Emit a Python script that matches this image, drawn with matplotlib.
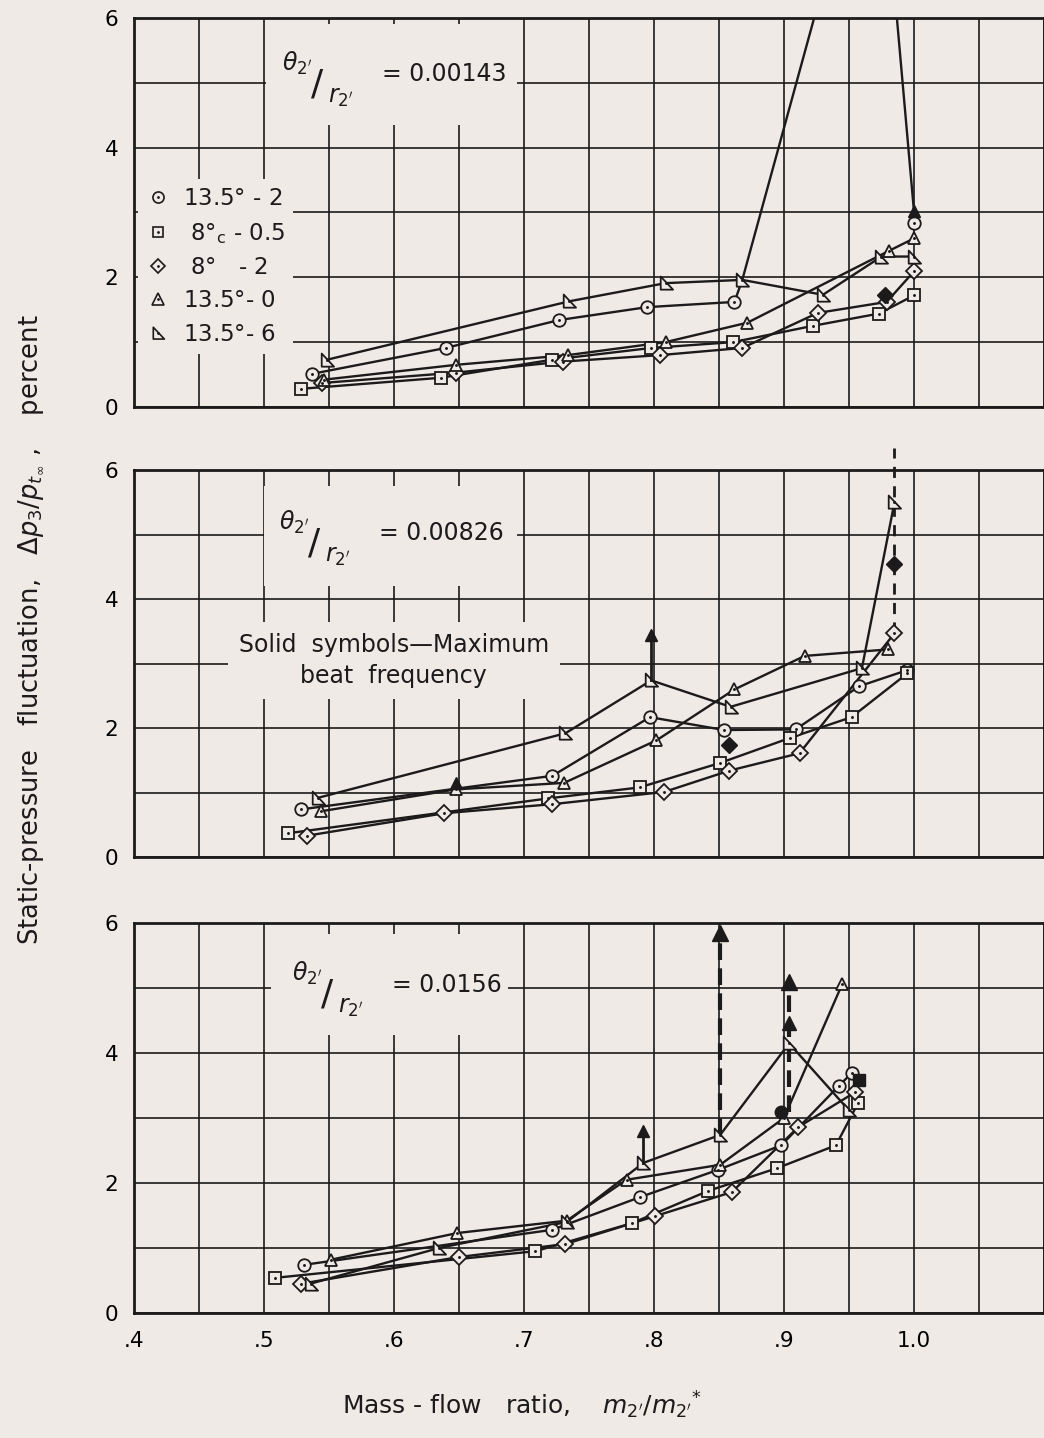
import matplotlib
matplotlib.use("Agg")
import matplotlib.pyplot as plt
from matplotlib.lines import Line2D
from matplotlib.patches import Rectangle
from matplotlib.path import Path

PAPER = '#f0eae7'
INK = '#1c1a1a'

# right-angle triangle marker used for the 13.5 deg - 6 configuration
RTRI = Path([(-0.75, -0.8), (0.85, -0.8), (-0.75, 0.9), (-0.75, -0.8)],
            [Path.MOVETO, Path.LINETO, Path.LINETO, Path.CLOSEPOLY])

labels = ['13.5$\\degree$ - 2', ' 8$\\degree$$_{\\rm c}$ - 0.5', ' 8$\\degree$   - 2',
          '13.5$\\degree$- 0', '13.5$\\degree$- 6']
markers = ['o', 's', 'D', '^', RTRI]
msizes = [9, 8, 8, 9, 10]

# ---- theta/r = 0.00143 (top) ----
top_circ_x = [0.537, 0.640, 0.727, 0.795, 0.862]
top_circ_y = [0.51, 0.91, 1.34, 1.54, 1.62]
top_sq_x = [0.529, 0.636, 0.722, 0.798, 0.861, 0.922, 0.973, 1.000]
top_sq_y = [0.28, 0.45, 0.73, 0.91, 1.00, 1.25, 1.44, 1.72]
top_dia_x = [0.545, 0.648, 0.730, 0.805, 0.868, 0.926, 0.979, 1.000]
top_dia_y = [0.37, 0.53, 0.70, 0.80, 0.91, 1.45, 1.62, 2.09]
top_tri_x = [0.546, 0.648, 0.734, 0.809, 0.872, 0.981, 1.000]
top_tri_y = [0.42, 0.65, 0.80, 1.00, 1.30, 2.41, 2.60]
top_rt_x = [0.549, 0.735, 0.809, 0.868, 0.930, 0.975, 1.000]
top_rt_y = [0.73, 1.63, 1.91, 1.96, 1.73, 2.32, 2.32]
top_extra_x = [1.000]           # circle at 1.0 fed from off-scale branch
top_extra_y = [2.83]
top_off1_x = [0.862, 0.868, 0.926]
top_off1_y = [1.62, 1.96, 6.2]
top_off2_x = [0.986, 1.000, 1.000]
top_off2_y = [6.2, 3.02, 2.83]
top_solid_tri = (1.000, 3.02)
top_solid_dia = (0.978, 1.73)

# ---- theta/r = 0.00826 (middle) ----
mid_circ_x = [0.529, 0.722, 0.797, 0.854, 0.909, 0.958, 0.995]
mid_circ_y = [0.74, 1.26, 2.17, 1.97, 1.98, 2.65, 2.90]
mid_sq_x = [0.519, 0.719, 0.789, 0.851, 0.905, 0.952, 0.995]
mid_sq_y = [0.37, 0.91, 1.08, 1.46, 1.85, 2.17, 2.85]
mid_dia_x = [0.533, 0.639, 0.722, 0.808, 0.858, 0.912, 0.985]
mid_dia_y = [0.33, 0.68, 0.82, 1.01, 1.34, 1.61, 3.47]
mid_tri_x = [0.544, 0.648, 0.731, 0.802, 0.862, 0.916, 0.980]
mid_tri_y = [0.71, 1.05, 1.15, 1.81, 2.60, 3.12, 3.22]
mid_rt_x = [0.542, 0.732, 0.798, 0.859, 0.960, 0.985]
mid_rt_y = [0.92, 1.92, 2.74, 2.33, 2.93, 5.50]
mid_solid_dia_x = [0.858, 0.985]
mid_solid_dia_y = [1.74, 4.54]
mid_solid_tri = (0.648, 1.15)
mid_arrow = (0.798, 2.74, 3.45)          # x, from, to (solid)
mid_dash = (0.985, 3.47, 6.35)           # dashed, runs past the frame

# ---- theta/r = 0.0156 (bottom) ----
bot_circ_x = [0.531, 0.722, 0.789, 0.849, 0.898, 0.942, 0.952]
bot_circ_y = [0.74, 1.28, 1.78, 2.20, 2.58, 3.49, 3.69]
bot_sq_x = [0.509, 0.709, 0.783, 0.842, 0.895, 0.940, 0.957]
bot_sq_y = [0.54, 0.95, 1.38, 1.88, 2.23, 2.58, 3.23]
bot_dia_x = [0.529, 0.650, 0.732, 0.801, 0.860, 0.911, 0.955]
bot_dia_y = [0.45, 0.86, 1.06, 1.49, 1.86, 2.86, 3.40]
bot_tri_x = [0.552, 0.649, 0.733, 0.779, 0.851, 0.900, 0.945]
bot_tri_y = [0.82, 1.23, 1.42, 2.05, 2.28, 3.00, 5.07]
bot_rt_x = [0.536, 0.635, 0.733, 0.792, 0.851, 0.904, 0.950]
bot_rt_y = [0.45, 1.00, 1.40, 2.31, 2.74, 4.15, 3.12]
bot_solid_circ = (0.898, 3.10)
bot_solid_sq = (0.958, 3.58)
bot_solid_tri = (0.904, 4.46)
bot_arrows_solid = [(0.792, 2.31, 2.80)]
bot_arrows_dash = [(0.851, 2.74, 5.85), (0.904, 3.10, 5.10)]

theta_vals = ['0.00143', '0.00826', '0.0156']
theta_anchor = [(0.514, 5.13), (0.512, 5.02), (0.522, 5.05)]
# blank areas behind the theta labels: x0, x1, y0, y1
theta_mask = [(0.502, 0.695, 4.35, 5.9), (0.50, 0.695, 4.2, 5.75), (0.506, 0.688, 4.28, 5.83)]
xticks = [0.4, 0.5, 0.6, 0.7, 0.8, 0.9, 1.0]
xticklabels = ['.4', '.5', '.6', '.7', '.8', '.9', '1.0']


def series(ax, x, y, m, ms):
    ax.plot(x, y, color=INK, lw=1.7, zorder=3)
    ax.plot(x, y, ls='none', marker=m, ms=ms, mfc=PAPER, mec=INK, mew=1.3, zorder=4)
    ax.plot(x, y, ls='none', marker='.', ms=2.2, color=INK, zorder=5)


def solid(ax, pt, m, ms):
    ax.plot([pt[0]], [pt[1]], ls='none', marker=m, ms=ms, color=INK, zorder=6)


def theta_label(ax, anchor, mask, val):
    x0, x1, y0, y1 = mask
    ax.add_patch(Rectangle((x0, y0), x1 - x0, y1 - y0, facecolor=PAPER,
                           edgecolor='none', zorder=1.5))
    kw = dict(xycoords='data', textcoords='offset points', color=INK, zorder=2,
              va='center', ha='left')
    ax.annotate(r'$\theta_{2^\prime}$', anchor, xytext=(0, 8), fontsize=17, **kw)
    ax.annotate('/', anchor, xytext=(21, -7), fontsize=26, **kw)
    ax.annotate(r'$r_{2^\prime}$', anchor, xytext=(33, -16), fontsize=17, **kw)
    ax.annotate('= ' + val, anchor, xytext=(72, 0), fontsize=17, **kw)


def setup(ax, show_x):
    ax.set_facecolor(PAPER)
    ax.set_xlim(0.4, 1.1)
    ax.set_ylim(0, 6)
    ax.set_xticks([0.4 + 0.05 * i for i in range(15)])
    ax.grid(True, color=INK, lw=1.2, zorder=0)
    ax.set_axisbelow(True)
    ax.set_yticks([0, 1, 2, 3, 4, 5, 6])
    ax.set_yticklabels(['0', '', '2', '', '4', '', '6'], fontsize=15.5)
    ax.tick_params(length=0, pad=11)
    if show_x:
        lab = []
        for i in range(15):
            v = round(0.4 + 0.05 * i, 2)
            lab.append(xticklabels[xticks.index(v)] if v in xticks else '')
        ax.set_xticklabels(lab, fontsize=15.5)
        ax.tick_params(axis='x', pad=13)
    else:
        ax.set_xticklabels([])
    for s in ax.spines.values():
        s.set_color(INK)
        s.set_linewidth(2.0)


fig = plt.figure(figsize=(10.44, 14.38), dpi=100)
fig.patch.set_facecolor(PAPER)
ax1 = fig.add_axes([0.128, 0.717, 0.872, 0.2705])
ax2 = fig.add_axes([0.128, 0.404, 0.872, 0.269])
ax3 = fig.add_axes([0.128, 0.087, 0.872, 0.271])
for i, ax in enumerate([ax1, ax2, ax3]):
    setup(ax, i == 2)
    theta_label(ax, theta_anchor[i], theta_mask[i], theta_vals[i])

# top
ax1.plot(top_off1_x, top_off1_y, color=INK, lw=1.7, zorder=3)
ax1.plot(top_off2_x, top_off2_y, color=INK, lw=1.7, zorder=3)
series(ax1, top_circ_x, top_circ_y, markers[0], msizes[0])
series(ax1, top_extra_x, top_extra_y, markers[0], msizes[0])
series(ax1, top_sq_x, top_sq_y, markers[1], msizes[1])
series(ax1, top_dia_x, top_dia_y, markers[2], msizes[2])
series(ax1, top_tri_x, top_tri_y, markers[3], msizes[3])
series(ax1, top_rt_x, top_rt_y, markers[4], msizes[4])
solid(ax1, top_solid_tri, '^', 9)
solid(ax1, top_solid_dia, 'D', 8)

# middle
for (x, y), m, ms in zip([(mid_circ_x, mid_circ_y), (mid_sq_x, mid_sq_y),
                          (mid_dia_x, mid_dia_y), (mid_tri_x, mid_tri_y),
                          (mid_rt_x, mid_rt_y)], markers, msizes):
    series(ax2, x, y, m, ms)
ax2.plot([mid_dash[0]] * 2, mid_dash[1:], color=INK, lw=2, ls=(0, (4, 3)), zorder=2,
         clip_on=False)
ax2.plot(mid_solid_dia_x, mid_solid_dia_y, ls='none', marker='D', ms=8, color=INK, zorder=6)
solid(ax2, mid_solid_tri, '^', 9)
ax2.plot([mid_arrow[0]] * 2, mid_arrow[1:], color=INK, lw=2, zorder=5)
solid(ax2, (mid_arrow[0], mid_arrow[2]), '^', 9)
ax2.text(0.6, 3.05, 'Solid  symbols\u2014Maximum\nbeat  frequency', fontsize=17,
         ha='center', va='center', color=INK, linespacing=1.4, zorder=2,
         bbox=dict(facecolor=PAPER, edgecolor='none', pad=8))

# bottom
for (x, y), m, ms in zip([(bot_circ_x, bot_circ_y), (bot_sq_x, bot_sq_y),
                          (bot_dia_x, bot_dia_y), (bot_tri_x, bot_tri_y),
                          (bot_rt_x, bot_rt_y)], markers, msizes):
    series(ax3, x, y, m, ms)
for x, y0, y1 in bot_arrows_dash:
    ax3.plot([x, x], [y0, y1], color=INK, lw=3, ls=(0, (4, 2)), zorder=2)
    solid(ax3, (x, y1), '^', 11)
for x, y0, y1 in bot_arrows_solid:
    ax3.plot([x, x], [y0, y1], color=INK, lw=2, zorder=5)
    solid(ax3, (x, y1), '^', 9)
solid(ax3, bot_solid_circ, 'o', 9)
solid(ax3, bot_solid_sq, 's', 8)
solid(ax3, bot_solid_tri, '^', 10)

# legend
handles = []
for m, ms in zip(markers, msizes):
    h1 = Line2D([], [], ls='none', marker=m, ms=ms - 1, mfc=PAPER, mec=INK, mew=1.2)
    h2 = Line2D([], [], ls='none', marker='.', ms=2, color=INK)
    handles.append((h1, h2))
leg = ax1.legend(handles, labels, loc='upper left', bbox_to_anchor=(0.005, 0.585),
                 fontsize=16.5, handlelength=1.0, handletextpad=0.6, labelspacing=0.45,
                 borderaxespad=0, borderpad=0.35, frameon=True, fancybox=False)
leg.get_frame().set_facecolor(PAPER)
leg.get_frame().set_edgecolor('none')
leg.get_frame().set_alpha(1)
for t in leg.get_texts():
    t.set_color(INK)

fig.text(0.03, 0.562,
         r'Static-pressure   fluctuation,   $\Delta p_3 / p_{t_\infty}$ ,    percent',
         rotation=90, fontsize=18.5, ha='center', va='center', color=INK)
fig.text(0.5, 0.023, r'Mass - flow   ratio,    $m_{2^\prime} / m_{2^\prime}{}^{*}$',
         fontsize=18, ha='center', va='center', color=INK)

fig.savefig('out.png', dpi=100, facecolor=PAPER)
